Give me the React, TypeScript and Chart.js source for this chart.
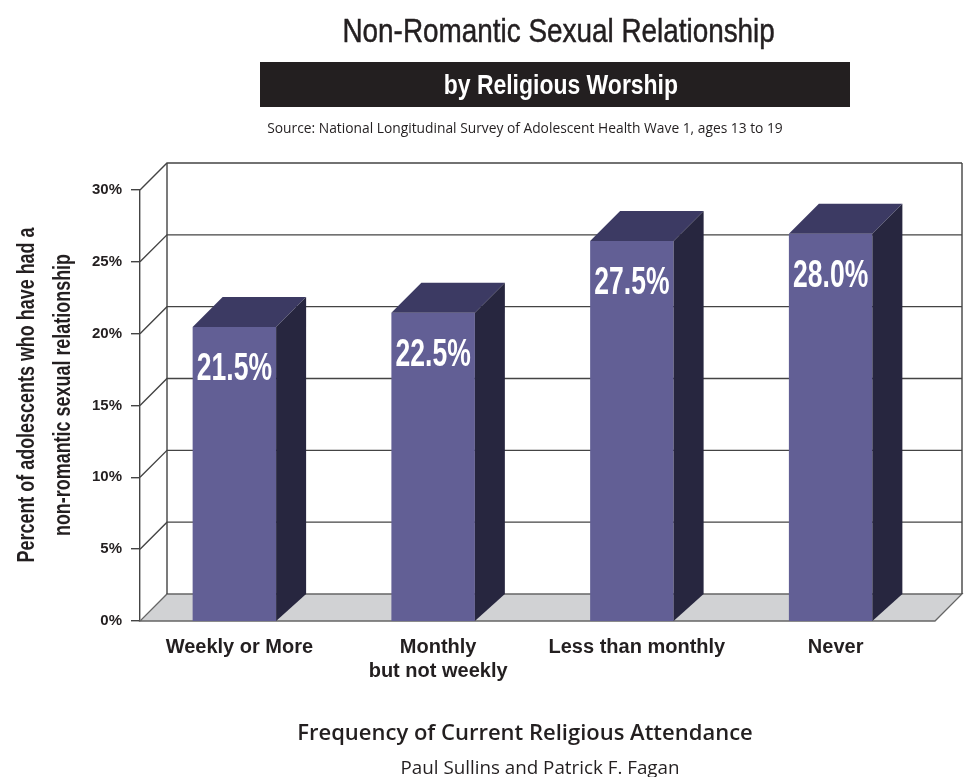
import React, { useEffect, useRef } from 'react';
import { Chart, registerables } from 'chart.js';

Chart.register(...registerables);

// ---- data ----
const categories: string[][] = [
  ['Weekly or More'],
  ['Monthly', 'but not weekly'],
  ['Less than monthly'],
  ['Never'],
];
const values: number[] = [21.5, 22.5, 27.5, 28.0];
const yMin = 0;
const yMax = 30;
const yStep = 5;

const titleText = 'Non-Romantic Sexual Relationship';
const subtitleText = 'by Religious Worship';
const sourceText = 'Source: National Longitudinal Survey of Adolescent Health Wave 1, ages 13 to 19';
const yTitle = ['Percent of adolescents who have had a', 'non-romantic sexual relationship'];
const xTitle = 'Frequency of Current Religious Attendance';
const authorText = 'Paul Sullins and Patrick F. Fagan';

// ---- style ----
const SANS = '"Liberation Sans", Arial, sans-serif';
const HUMAN = '"Open Sans", sans-serif';
const FRONT = '#625f95';
const TOP = '#3c3a63';
const SIDE = '#27263f';
const FLOOR = '#d1d2d4';
const LINE = '#444444';
const WALL = 27;
const BAR_DX = 30;
const BAR_DY = 30;
const BAR_SHIFT = -5;

const threeD = {
  id: 'threeD',
  beforeDatasetsDraw(chart: any) {
    const { ctx, chartArea, scales } = chart;
    const { left, right, top, bottom } = chartArea;
    const y = scales.y;
    ctx.save();
    // floor
    ctx.beginPath();
    ctx.moveTo(left, bottom);
    ctx.lineTo(right, bottom);
    ctx.lineTo(right + WALL, bottom - WALL);
    ctx.lineTo(left + WALL, bottom - WALL);
    ctx.closePath();
    ctx.fillStyle = FLOOR;
    ctx.fill();
    ctx.strokeStyle = '#666';
    ctx.lineWidth = 1.3;
    ctx.stroke();
    // walls grid
    ctx.strokeStyle = LINE;
    ctx.lineWidth = 1.4;
    y.ticks.forEach((t: any) => {
      if (t.value === yMin) return;
      const py = y.getPixelForValue(t.value);
      ctx.beginPath();
      ctx.moveTo(left, py);
      ctx.lineTo(left + WALL, py - WALL);
      ctx.lineTo(right + WALL, py - WALL);
      ctx.stroke();
    });
    ctx.beginPath();
    ctx.moveTo(left + WALL, top - WALL);
    ctx.lineTo(left + WALL, bottom - WALL);
    ctx.moveTo(right + WALL, top - WALL);
    ctx.lineTo(right + WALL, bottom - WALL);
    ctx.stroke();
    ctx.restore();
    // bars: front face sits half a depth lower (value read at mid-depth)
    ctx.save();
    ctx.beginPath();
    ctx.rect(0, 0, chart.width, bottom);
    ctx.clip();
    ctx.translate(BAR_SHIFT, BAR_DY / 2);
  },
  afterDatasetsDraw(chart: any) {
    const { ctx, chartArea } = chart;
    ctx.restore();
    const bottom = chartArea.bottom;
    const meta = chart.getDatasetMeta(0);
    meta.data.forEach((el: any, i: number) => {
      const p = el.getProps(['x', 'y', 'width'], true);
      const x = p.x + BAR_SHIFT;
      const tf = p.y + BAR_DY / 2;
      const l = x - p.width / 2;
      const r = x + p.width / 2;
      ctx.save();
      // top face
      ctx.beginPath();
      ctx.moveTo(l, tf);
      ctx.lineTo(r, tf);
      ctx.lineTo(r + BAR_DX, tf - BAR_DY);
      ctx.lineTo(l + BAR_DX, tf - BAR_DY);
      ctx.closePath();
      ctx.fillStyle = TOP;
      ctx.fill();
      // side face
      ctx.beginPath();
      ctx.moveTo(r, tf);
      ctx.lineTo(r + BAR_DX, tf - BAR_DY);
      ctx.lineTo(r + BAR_DX, bottom - WALL);
      ctx.lineTo(r, bottom);
      ctx.closePath();
      ctx.fillStyle = SIDE;
      ctx.fill();
      // value label
      ctx.translate(x, tf + 53);
      ctx.scale(0.68, 1);
      ctx.font = 'bold 39px ' + SANS;
      ctx.fillStyle = '#ffffff';
      ctx.textAlign = 'center';
      ctx.textBaseline = 'alphabetic';
      ctx.fillText(values[i].toFixed(1) + '%', 0, 0);
      ctx.restore();
    });
  },
};

function Condensed(props: { text: string; scale: number; style: React.CSSProperties }) {
  return (
    <div style={{ position: 'absolute', textAlign: 'center', whiteSpace: 'nowrap', ...props.style }}>
      <span style={{ display: 'inline-block', transform: `scaleX(${props.scale})`, transformOrigin: 'center' }}>{props.text}</span>
    </div>
  );
}

export default function App() {
  const ref = useRef<HTMLCanvasElement | null>(null);

  useEffect(() => {
    if (!ref.current) return;
    const chart = new Chart(ref.current, {
      type: 'bar',
      data: {
        labels: categories,
        datasets: [
          {
            data: values,
            backgroundColor: FRONT,
            borderWidth: 0,
            barPercentage: 0.42,
            categoryPercentage: 1,
          },
        ],
      },
      options: {
        responsive: false,
        animation: false,
        events: [],
        layout: { padding: { left: 0, right: 29, top: 190, bottom: 0 } },
        plugins: {
          legend: { display: false },
          tooltip: { enabled: false },
          title: { display: false },
        },
        scales: {
          x: {
            grid: { display: false, drawTicks: false },
            border: { display: false },
            ticks: {
              color: '#231f20',
              font: { family: SANS, weight: 'bold', size: 20, lineHeight: 1.2 },
              padding: 14,
              maxRotation: 0,
              autoSkip: false,
            },
            afterFit: (s: any) => {
              s.height = 156;
            },
          },
          y: {
            min: yMin,
            max: yMax,
            ticks: {
              stepSize: yStep,
              color: '#231f20',
              font: { family: SANS, weight: 'bold', size: 15 },
              padding: 9,
              callback: (v: any) => v + '%',
            },
            grid: {
              drawOnChartArea: false,
              drawTicks: true,
              tickLength: 9,
              color: LINE,
              lineWidth: 1.4,
            },
            border: { display: true, color: LINE, width: 1.4 },
            afterFit: (s: any) => {
              s.width = 140;
            },
          },
        },
      },
      plugins: [threeD],
    } as any);
    return () => chart.destroy();
  }, []);

  const ink = '#231f20';

  return (
    <div style={{ position: 'absolute', left: 0, top: 0, width: 964, height: 777, background: '#fff', overflow: 'hidden', color: ink }}>
      <canvas ref={ref} width={964} height={777} style={{ display: 'block', position: 'absolute', left: 0, top: 0 }} />
      <Condensed
        text={titleText}
        scale={0.82}
        style={{ left: 259, width: 600, top: 10, height: 40, lineHeight: '40px', fontFamily: SANS, fontSize: 34, WebkitTextStroke: '0.5px ' + ink }}
      />
      <div style={{ position: 'absolute', left: 260, width: 590, top: 62, height: 45, background: ink }} />
      <Condensed
        text={subtitleText}
        scale={0.82}
        style={{ left: 266, width: 590, top: 62, height: 45, lineHeight: '45px', color: '#fff', fontFamily: SANS, fontWeight: 'bold', fontSize: 28 }}
      />
      <Condensed
        text={sourceText}
        scale={1}
        style={{ left: 225, width: 600, top: 119, height: 18, lineHeight: '18px', fontFamily: HUMAN, fontSize: 13.8 }}
      />
      <div
        style={{
          position: 'absolute',
          left: 44 - 300,
          top: 395 - 36,
          width: 600,
          height: 72,
          lineHeight: '36px',
          textAlign: 'center',
          whiteSpace: 'nowrap',
          fontFamily: SANS,
          fontWeight: 'bold',
          fontSize: 23,
          transform: 'rotate(-90deg) scaleX(0.78)',
          transformOrigin: 'center',
        }}
      >
        {yTitle[0]}
        <br />
        {yTitle[1]}
      </div>
      <Condensed
        text={xTitle}
        scale={1}
        style={{ left: 225, width: 600, top: 716, height: 30, lineHeight: '30px', fontFamily: HUMAN, fontWeight: 600, fontSize: 22 }}
      />
      <Condensed
        text={authorText}
        scale={1}
        style={{ left: 240, width: 600, top: 755, height: 24, lineHeight: '24px', fontFamily: HUMAN, fontSize: 18.8 }}
      />
    </div>
  );
}
